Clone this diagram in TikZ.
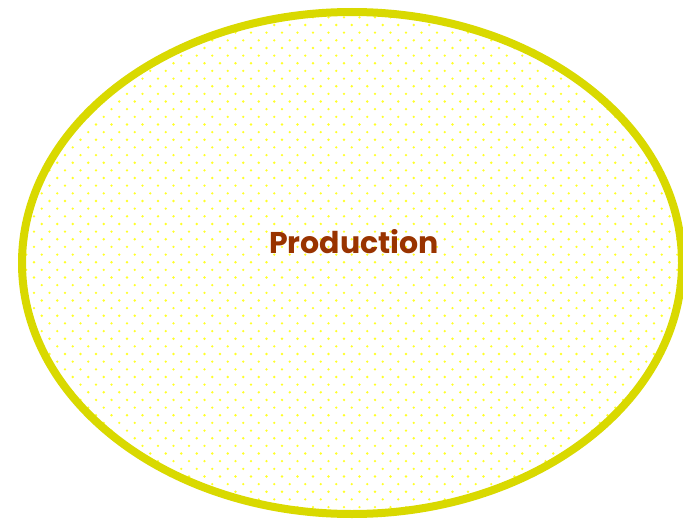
\documentclass[tikz,border=0pt]{standalone}
\usepackage{fontspec}
\setmainfont{Poppins}
\definecolor{ringcol}{RGB}{217,217,0}
\definecolor{dotcol}{RGB}{255,255,40}
\definecolor{txtcol}{RGB}{153,51,0}
\tikzset{
  ring/.style={draw=ringcol, line width=8pt},
  dotmark/.style={fill=dotcol},
  label/.style={font=\bfseries\fontsize{30}{34}\selectfont, text=txtcol, inner sep=0pt}
}
\begin{document}
\begin{tikzpicture}[x=1pt,y=-1pt]
\useasboundingbox (0,0) rectangle (683,519);
\fill[white] (0,0) rectangle (683,519);
\begin{scope}
  \clip (352,263) ellipse [x radius=330, y radius=251];
  \foreach \r in {0,...,68}{
    \pgfmathsetmacro{\yy}{25+(\r-3)*7.652}
    \pgfmathsetmacro{\xo}{mod(\r,2)==0 ? 3.0 : 10.75}
    \foreach \c in {0,...,44}{
      \fill[dotmark] ({\xo+\c*15.5},\yy) circle (1.3);
    }
  }
\end{scope}
\draw[ring] (352,263) ellipse [x radius=330, y radius=251];
\node[label] (prod) at (354,242) {Production};
\end{tikzpicture}
\end{document}
